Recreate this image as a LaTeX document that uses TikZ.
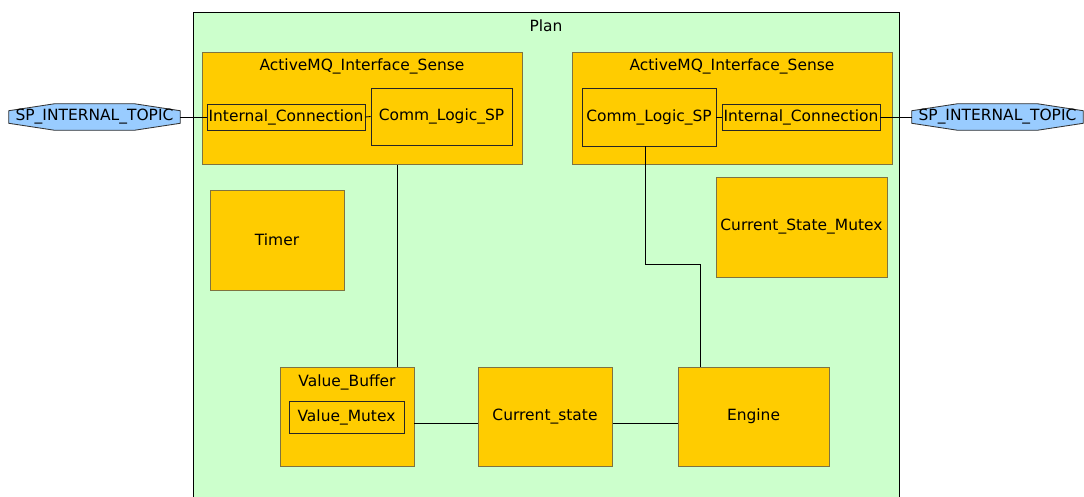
\documentclass[tikz,border=0pt]{standalone}
\usepackage{fontspec}
\setmainfont{DejaVu Sans}
\usetikzlibrary{calc,backgrounds}

\definecolor{planfill}{HTML}{CCFFCC}
\definecolor{compfill}{HTML}{FFCC00}
\definecolor{compline}{HTML}{7F7340}
\definecolor{topicfill}{HTML}{99CCFF}

\def\px{0.025cm}

\tikzset{
  sz/.style 2 args={minimum width=#1*\px, minimum height=#2*\px},
  comp/.style={draw=compline, fill=compfill, line width=0.7pt, inner sep=0pt},
  part/.style={draw=black!85, fill=compfill, line width=0.6pt, inner sep=0pt},
  topic/.style={inner sep=0pt},
  wire/.style={draw=black, line width=0.6pt}
}

\begin{document}
\begin{tikzpicture}[x=0.025cm, y=-0.025cm, font=\fontsize{11}{13}\selectfont]
    \useasboundingbox (0,0) rectangle (1084,496);

    % Container
    \node[draw=black, fill=planfill, line width=0.7pt, sz={706}{508}] (plan) at (546,266) {};
    \node (planTitle) at (546,26) {Plan};

    % ActiveMQ interfaces
    \node[comp, sz={320}{112}] (amqL) at (362,108) {};
    \node (amqLTitle) at (362,66) {ActiveMQ\_Interface\_Sense};
    \node[part, sz={158}{26}] (icL) at (286,117) {Internal\_Connection};
    \node[part, sz={141}{57}] (clL) at (441.5,116.5) {Comm\_Logic\_SP};

    \node[comp, sz={320}{112}] (amqR) at (732,108) {};
    \node (amqRTitle) at (732,66) {ActiveMQ\_Interface\_Sense};
    \node[part, sz={134}{58}] (clR) at (649,117) {Comm\_Logic\_SP};
    \node[part, sz={158}{26}] (icR) at (801,117) {Internal\_Connection};

    % Topics
    \node[topic, sz={171}{26}] (topicL) at (94.5,117) {SP\_INTERNAL\_TOPIC};
    \node[topic, sz={171}{26}] (topicR) at (997.5,117) {SP\_INTERNAL\_TOPIC};
    \begin{scope}[on background layer]
      \foreach \t in {topicL,topicR}
        \filldraw[fill=topicfill, draw=black!80, line width=0.6pt]
          ($(\t.north west)+(0,7)$) -- ($(\t.north west)+(46,0)$)
          -- ($(\t.north east)+(-46,0)$) -- ($(\t.north east)+(0,7)$)
          -- ($(\t.south east)+(0,-7)$) -- ($(\t.south east)+(-46,0)$)
          -- ($(\t.south west)+(46,0)$) -- ($(\t.south west)+(0,-7)$) -- cycle;
    \end{scope}

    % Other components
    \node[comp, sz={134}{100}] (timer) at (277,240) {Timer};
    \node[comp, sz={171}{100}] (csm) at (801.5,227) {Current\_State\_Mutex};

    \node[comp, sz={134}{99}] (vb) at (347,416.5) {};
    \node (vbTitle) at (347,382) {Value\_Buffer};
    \node[part, sz={115}{32}] (vm) at (346.5,417) {Value\_Mutex};
    \node[comp, sz={134}{99}] (cs) at (545,416.5) {Current\_state};
    \node[comp, sz={151}{99}] (eng) at (753.5,416.5) {Engine};

    % Links
    \draw[wire] (topicL.east) -- (icL.west);
    \draw[wire] (icL.east) -- (clL.west);
    \draw[wire] (clR.east) -- (icR.west);
    \draw[wire] (icR.east) -- (topicR.west);

    \coordinate (dropL) at (397,0);
    \draw[wire] (amqL.south -| dropL) -- (vb.north -| dropL);

    \coordinate (kneeA) at (645,264);
    \coordinate (kneeB) at (700,264);
    \draw[wire] (clR.south -| kneeA) -- (kneeA) -- (kneeB) -- (eng.north -| kneeB);

    \coordinate (busY) at (0,423);
    \draw[wire] (vb.east |- busY) -- (cs.west |- busY);
    \draw[wire] (cs.east |- busY) -- (eng.west |- busY);
\end{tikzpicture}
\end{document}
